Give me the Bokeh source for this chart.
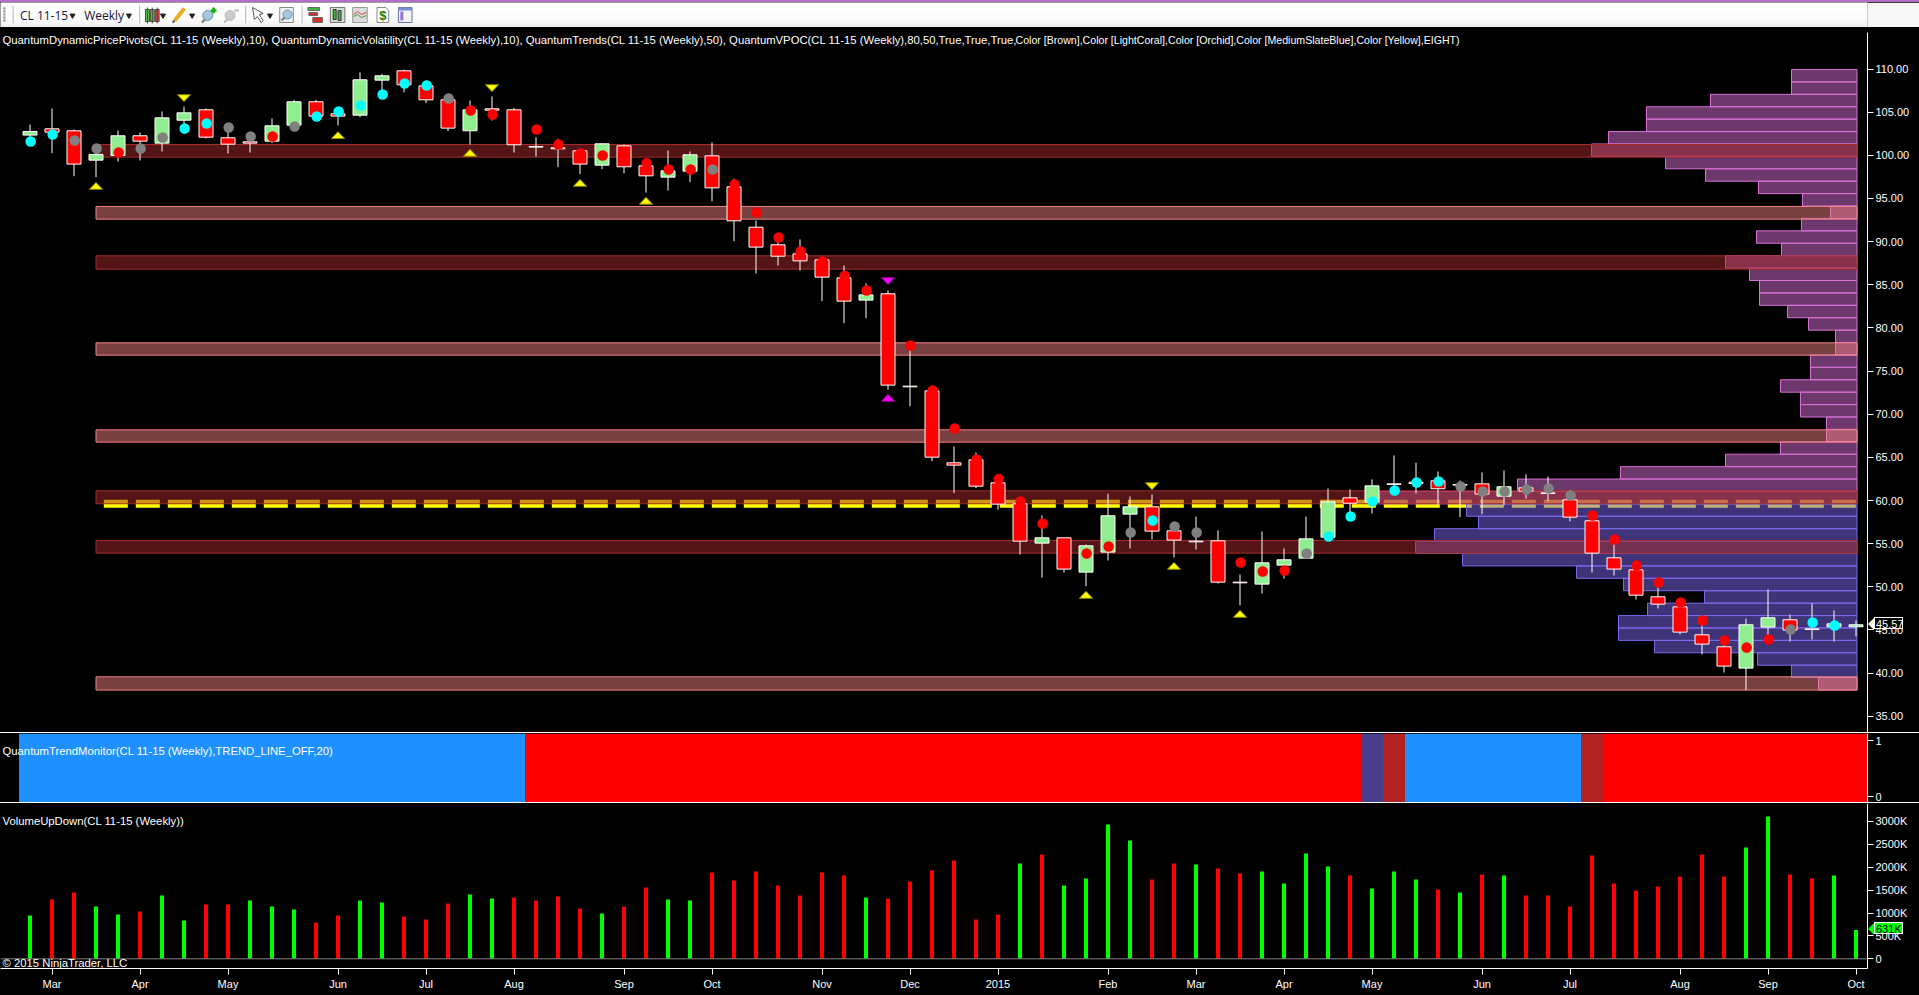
from bokeh.plotting import figure
from bokeh.models import Range1d, FixedTicker, Label, Div, Span
from bokeh.layouts import column
from bokeh.embed import file_html
from bokeh.resources import INLINE
from bokeh.core.properties import value
import numpy as np

FONT = "Liberation Sans"

# ---------- weekly candles ----------
opens = [102.34,103.07,102.84,99.44,99.98,102.26,101.41,104.07,105.27,102.03,101.56,101.64,103.49,106.20,104.81,104.65,108.71,109.79,108.05,106.43,102.84,105.39,105.27,101.02,100.87,100.52,98.86,101.10,98.78,97.47,98.16,99.94,96.35,91.67,89.63,88.58,87.89,85.80,83.22,83.95,73.25,72.71,64.37,64.71,62.05,59.62,55.06,55.68,51.70,54.02,58.42,59.27,56.49,55.29,55.33,50.54,50.31,52.51,53.32,55.75,60.31,59.81,61.93,62.13,62.28,61.86,61.93,60.50,61.47,60.89,60.08,57.65,53.36,51.97,48.84,47.68,44.44,43.05,40.58,45.33,46.18,45.13,45.37,45.37]
closes = [102.76,102.68,98.98,100.10,102.26,101.64,104.34,104.92,102.10,101.29,101.41,103.42,106.20,104.54,104.54,108.75,109.21,108.17,106.43,103.15,105.27,105.23,101.22,100.95,100.75,98.98,101.33,98.67,97.62,98.20,100.06,96.23,92.41,89.36,88.31,87.77,85.88,83.10,83.83,73.37,73.17,65.02,64.10,61.66,59.58,55.29,55.68,52.05,54.75,58.23,59.27,56.45,55.41,55.21,50.54,50.46,52.78,53.13,55.56,59.85,59.69,61.70,61.86,61.97,61.36,61.78,60.74,61.59,61.08,60.81,58.07,53.90,52.05,49.03,47.99,44.75,43.36,40.81,45.60,46.41,44.98,45.05,45.71,45.60]
highs = [103.57,105.43,102.99,101.33,102.88,102.64,105.08,105.66,105.43,103.07,102.68,104.27,106.43,106.43,105.58,109.60,109.44,109.91,108.67,107.13,106.35,106.82,105.50,102.10,101.91,100.75,101.41,101.25,99.63,100.56,100.44,101.49,97.28,92.45,90.13,90.25,88.20,87.23,85.15,84.34,77.77,73.14,66.26,65.56,62.32,60.00,58.26,55.68,54.90,60.78,60.47,60.70,57.30,58.15,56.53,51.43,56.41,54.44,58.15,61.39,61.28,62.44,65.22,64.37,63.36,62.32,63.25,63.48,63.02,62.78,61.16,57.88,54.98,52.28,49.96,48.03,45.52,43.39,46.33,49.69,46.79,48.07,47.26,46.10]
lows = [101.52,100.25,97.58,97.47,99.28,99.40,100.44,102.49,101.95,100.21,100.33,101.41,103.26,104.23,103.46,104.42,107.51,107.28,106.04,102.80,101.25,104.03,100.33,99.86,98.63,97.82,98.40,97.93,95.69,95.92,96.89,94.65,90.05,86.31,87.23,86.65,83.10,80.55,81.13,72.86,70.93,64.56,60.85,61.43,58.96,53.75,51.08,51.66,50.08,53.05,54.44,55.48,53.40,54.32,50.38,47.84,49.23,50.96,53.24,55.75,58.65,58.50,60.78,60.81,59.50,58.07,58.42,59.46,60.23,59.93,57.57,51.66,51.31,48.53,47.49,44.48,42.16,40.07,38.03,43.90,43.66,43.90,43.66,44.24]

# ---------- pivot dots per week ----------
dot_prices = [101.60,102.41,101.72,100.79,100.33,100.79,102.07,103.11,103.69,103.22,102.18,102.18,103.34,104.50,105.08,105.77,107.05,108.32,108.09,106.58,105.19,104.73,None,102.99,101.25,100.21,99.98,None,99.09,98.36,98.36,98.36,96.62,93.37,90.48,88.85,87.70,86.04,84.34,None,77.96,72.75,68.35,64.75,62.48,59.89,57.34,None,53.86,54.67,56.30,57.69,56.99,56.30,None,52.82,51.77,51.89,53.86,55.83,58.15,59.89,61.16,62.09,62.20,61.63,61.05,61.05,61.28,61.39,60.58,58.26,55.48,52.47,50.50,48.18,46.10,43.78,42.97,43.90,45.05,45.87,45.52,None]
dot_kinds = list("ccggrggcc" "ggrg" "ccccc" "c" "grr-" "rrrr-" "rrrgr" "rrrrrr-" "rrrrrrr-" "rrgcgg-" "rrrgcccccc" "gggggg" "rrrrrrrrrgccc-")

# ---------- trend monitor ----------
trend_states = ["up"]*23 + ["down"]*38 + ["mixed"] + ["weak"] + ["up"]*8 + ["weak"] + ["down"]*12

# ---------- volume (thousands of contracts) ----------
volumes = [947,1296,1449,1143,969,1034,1384,838,1187,1187,1275,1143,1078,794,947,1275,1231,925,859,1209,1406,1318,1340,1275,1362,1100,990,1143,
           1559,1296,1275,1886,1712,1908,1602,1384,1886,1821,1340,1318,1690,1930,2148,859,969,2083,2280,1602,1755,2935,2586,1733,2083,2061,1974,1865,1908,
           1646,2301,2017,1821,1537,1908,1733,1515,1449,1843,1821,1384,1384,1143,2258,1646,1493,1580,1799,2280,1799,2432,3110,1843,1755,1821,631]
volume_sides = list("grrggrggrrgggrrggrrrggrrrrgr" "rggrrrrrrrgrrrrrrgrggggrrgrrg" "gggrgggrgrgrrrrrrrrrrggrrgg")

# ---------- swing triangles ----------
up_tri_weeks = [3,14,20,25,28,48,52,55]
up_tri_prices = [96.46,102.34,100.29,96.81,94.73,49.07,52.43,46.87]
down_tri_weeks = [7,21,51]
down_tri_prices = [106.62,107.78,61.66]
mag_weeks = [39,39]
mag_prices = [85.42,71.90]
mag_dirs = [-1,1]

# ---------- volume profile ----------
profile_top = 109.94
profile_step = 1.438
profile_volumes = [65.5,65.5,146.5,210.5,210.5,248.5,265.5,191.5,151.5,98.5,54.5,26.5,55.5,100.5,75.5,131.5,107.5,97.5,97.5,69.5,48.5,21.5,21.5,46.5,46.5,76.5,56.5,56.5,30.5,30.5,76.5,131.5,236.5,339.5,477.5,390.5,378.5,422.5,441.5,394.5,280.5,233.5,152.5,209.5,238.5,238.5,202.5,99.5,65.5,38.5]
profile_kinds = ["out"]*35 + ["value"]*14 + ["out"]

# ---------- volatility zones ----------
zone_tops = [101.25,94.07,88.35,78.27,68.19,61.12,55.37,39.57]
zone_bottoms = [99.79,92.60,86.81,76.84,66.76,59.62,53.90,38.03]
zone_kinds = ["dark","light","dark","light","light","dark","dark","light"]
vpoc_price = 59.62

# ---------- axis labels ----------
month_ticks = [1,5,9,14,18,22,27,31,36,40,44,49,53,57,61,66,70,75,79,83]
month_labels = ["Mar","Apr","May","Jun","Jul","Aug","Sep","Oct","Nov","Dec","2015","Feb","Mar","Apr","May","Jun","Jul","Aug","Sep","Oct"]
price_ticks = [35,40,45,50,55,60,65,70,75,80,85,90,95,100,105,110]
volume_ticks = [0,500,1000,1500,2000,2500,3000]
last_price = 45.57
last_volume = 631

header_a = ("QuantumDynamicPricePivots(CL 11-15 (Weekly),10), QuantumDynamicVolatility(CL 11-15 (Weekly),10), "
            "QuantumTrends(CL 11-15 (Weekly),50), QuantumVPOC(CL 11-15 (Weekly),80,50,True,True,True,")
header_b = "Color [Brown],Color [LightCoral],Color [Orchid],Color [MediumSlateBlue],Color [Yellow],EIGHT)"

# ---------- geometry ----------
W = 1919
RIGHT = 52
FRAME_W = W - RIGHT
def x_range():
    return Range1d(-29.5/22, (FRAME_W-29.5)/22)

def panel(h, yr, bottom=0, **kw):
    p = figure(width=W, height=h, x_range=x_range(), y_range=yr, output_backend="svg", toolbar_location=None,
               background_fill_color="black", border_fill_color="black", outline_line_color=None,
               min_border_left=0, min_border_top=0, min_border_bottom=bottom, min_border_right=RIGHT,
               y_axis_location="right", x_axis_location=("below" if bottom else None), **kw)
    p.grid.visible = False
    ax = p.yaxis[0]
    ax.axis_line_color = "white"
    ax.major_tick_line_color = "white"
    ax.major_tick_in = 0
    ax.major_tick_out = 6
    ax.minor_tick_line_color = None
    ax.major_label_text_color = "white"
    ax.major_label_text_font = FONT
    ax.major_label_text_font_size = "11px"
    ax.major_label_standoff = 2
    return p

def caption(p, text, x, y, size="11.3px"):
    p.add_layout(Label(x=x, y=y, x_units="screen", y_units="screen", text=text, text_color="white",
                       text_font=FONT, text_font_size=size, text_baseline="middle"))

def tag(text, left, top, fg, bg, edge, arrow):
    """A last-value flag that sits over the axis, outside any plot frame."""
    html = (f'<div style="position:relative;width:37px;height:15px;font:11px \'{FONT}\';color:{fg};">'
            f'<div style="position:absolute;left:0;top:1px;width:0;height:0;border-top:6px solid transparent;'
            f'border-bottom:6px solid transparent;border-right:6px solid {arrow};"></div>'
            f'<div style="position:absolute;left:6px;top:0;width:29px;height:12px;line-height:12px;padding:0 0 0 1px;'
            f'border:1px solid {edge};background:{bg};white-space:nowrap;">{text}</div></div>')
    return Div(text=html, width=37, height=15, margin=0,
               styles={"position": "fixed", "left": f"{left}px", "top": f"{top}px", "z-index": "5"})

# ---------- toolbar ----------
backstop = Div(text="", width=W, height=995, margin=0,
               styles={"position": "fixed", "left": "0", "top": "0", "z-index": "-1", "background-color": "black"})
purple = Div(text="", width=W, height=2, margin=0, styles={"background-color": "#b06fc8"})
tb = figure(width=W, height=25, x_range=Range1d(0, W), y_range=Range1d(27, 2), output_backend="svg", toolbar_location=None,
            background_fill_color="#f8f8f8", border_fill_color="#f8f8f8", outline_line_color=None,
            min_border=0, x_axis_location=None, y_axis_location=None)
tb.grid.visible = False
tb.quad(left=0, right=W, top=[2,12,20,24,26.7], bottom=[12,20,24,26.7,27],
        fill_color=["#ffffff","#fcfcfc","#f6f6f6","#efefef","#000000"], line_color=None)
tb.segment(x0=[13,143,252,310], x1=[13,143,252,310], y0=5, y1=23, line_color="#b8b8b8", line_width=1)
tb.scatter(x=[4,4,4,4,4], y=[8,11,14,17,20], size=2, color="#aaaaaa")
tb.text(x=[20,86], y=[15,15], text=["CL 11-15","Weekly"], text_font=value("Open Sans"), text_font_size="12px",
        text_color="#14143c", text_baseline="middle")
tb.scatter(x=[74,132,167,197,277], y=[15,15,15,15,15], marker="inverted_triangle", size=5, color="#222222")
tb.quad(left=[149,154,159], right=[153,158,163], top=[9,9,9], bottom=[21,21,21],
        fill_color=["#5fd04c","#5fd04c","#e8413a"], line_color="#444444")
tb.segment(x0=[151,156,161], x1=[151,156,161], y0=7, y1=23, line_color="#444444")
tb.line(x=[179,189], y=[20,8], line_color="#e8b020", line_width=4)
tb.line(x=[177,179], y=[22,20], line_color="#555555", line_width=2)
tb.line(x=[207,211], y=[22,18], line_color="#777777", line_width=2)
tb.scatter(x=[213], y=[15], size=10, fill_color="#a8c8e0", line_color="#7090a8")
tb.segment(x0=[216,219], x1=[222,219], y0=[10,7], y1=[10,13], line_color="#12b012", line_width=2.5)
tb.line(x=[230,234], y=[22,18], line_color="#bbbbbb", line_width=2)
tb.scatter(x=[236], y=[15], size=10, fill_color="#cccccc", line_color="#bbbbbb")
tb.line(x=[240,245], y=[10,10], line_color="#bbbbbb", line_width=2)
tb.patch(x=[259,270,266,270,268,264,261], y=[7,13,14,20,22,16,19], fill_color="#ffffff", line_color="#555555")
tb.quad(left=287, right=301, top=7, bottom=22, fill_color="#f0f0f0", line_color="#888888")
tb.scatter(x=[295], y=[14], size=9, fill_color="#a8c8e0", line_color="#7090a8")
tb.line(x=[289,292], y=[20,17], line_color="#777777", line_width=2)
tb.quad(left=[316,317,321], right=[328,326,331], top=[7,12,17], bottom=[10,15,22],
        fill_color=["#3cb83c","#d83030","#d83030"], line_color="#666666")
tb.quad(left=339, right=354, top=7, bottom=22, fill_color="#d8d8d8", line_color="#777777")
tb.quad(left=[342,347], right=[345,350], top=[9,10], bottom=[19,20], fill_color=["#3cb83c","#3cb83c"], line_color="#333333")
tb.quad(left=362, right=377, top=7, bottom=22, fill_color="#dcdcdc", line_color="#999999")
tb.line(x=[363,367,371,376], y=[14,11,14,12], line_color="#d04040")
tb.line(x=[363,367,371,376], y=[16,14,17,15], line_color="#40a040")
tb.patch(x=[387,396,399,399,387], y=[7,7,10,22,22], fill_color="#ffffff", line_color="#888888")
tb.text(x=[393], y=[15], text=["$"], text_font=value(FONT), text_font_size="13px", text_font_style="bold",
        text_color="#108010", text_align="center", text_baseline="middle")
tb.quad(left=409, right=423, top=7, bottom=22, fill_color="#f4f4f8", line_color="#6070a8")
tb.quad(left=[409,411], right=[423,414], top=[7,11], bottom=[10,20], fill_color=["#7090d0","#9070d8"], line_color=None)

# ---------- main price panel ----------
p1 = panel(705, Range1d(60-(732-500)/8.63, 60+(500-27)/8.63))
pr = p1.yaxis[0]
pr.ticker = FixedTicker(ticks=price_ticks)
pr.major_label_overrides = {t: f"{t:.2f}" for t in price_ticks}
pr.bounds = (33.12, 114.2)
p1.extra_x_ranges["profile"] = Range1d(1856.5, -10.5)

weeks = np.arange(len(opens))

p1.line(x=[3.355, 83.05], y=[vpoc_price, vpoc_price], line_color="#ffff00", line_width=8, line_dash="24 8")

prof_tops = [profile_top - profile_step*i for i in range(len(profile_volumes))]
prof_bottoms = [t - profile_step for t in prof_tops]
pc = {"out": "#DA70D6", "value": "#7B68EE"}
p1.quad(left=profile_volumes, right=0, top=prof_tops, bottom=prof_bottoms, x_range_name="profile",
        fill_color=[pc[k] for k in profile_kinds], fill_alpha=0.5,
        line_color=[pc[k] for k in profile_kinds], line_width=1)

zc = {"dark": "#A52A2A", "light": "#F08080"}
p1.quad(left=3, right=83.05, top=zone_tops, bottom=zone_bottoms,
        fill_color=[zc[k] for k in zone_kinds], fill_alpha=0.5,
        line_color=[zc[k] for k in zone_kinds], line_width=1)

ups = [c > o for o, c in zip(opens, closes)]
p1.segment(x0=weeks, x1=weeks, y0=lows, y1=highs, line_color="white", line_width=1)
p1.vbar(x=weeks, width=14/22, top=[max(o, c) for o, c in zip(opens, closes)], bottom=[min(o, c) for o, c in zip(opens, closes)],
        fill_color=["#90EE90" if u else "#FF0000" for u in ups], line_color="white", line_width=1)

dk = {"c": "#00FFFF", "g": "#808080", "r": "#FF0000"}
dw = [i + 0.03 for i, v in enumerate(dot_prices) if v is not None]
dv = [v for v in dot_prices if v is not None]
dc = [dk[k] for k, v in zip(dot_kinds, dot_prices) if v is not None]
p1.scatter(x=dw, y=dv, size=10.5, marker="circle", fill_color=dc, line_color=None)

def tris(ws, ps, dirs):
    return ([[w-0.3, w, w+0.3] for w in ws],
            [[v-0.4*d, v+0.4*d, v-0.4*d] for v, d in zip(ps, dirs)])
xs, ys = tris(up_tri_weeks, up_tri_prices, [1]*len(up_tri_weeks))
p1.patches(xs, ys, fill_color="#FFFF00", line_color="#8a8a00", line_width=1)
xs, ys = tris(down_tri_weeks, down_tri_prices, [-1]*len(down_tri_weeks))
p1.patches(xs, ys, fill_color="#FFFF00", line_color="#8a8a00", line_width=1)
xs, ys = tris(mag_weeks, mag_prices, mag_dirs)
p1.patches(xs, ys, fill_color="#FF00FF", line_color="#8a008a", line_width=1)

caption(p1, header_a, 2, 705-12)
caption(p1, header_b, 1015, 705-12, "10.6px")

# ---------- trend monitor ----------
p2 = panel(69, Range1d(-6/56, 1+7/56))
p2.yaxis[0].ticker = FixedTicker(ticks=[0, 1])
tc = {"up": "#1E90FF", "down": "#FF0000", "mixed": "#483D8B", "weak": "#B22222"}
p2.vbar(x=weeks, width=1, top=1+7/56, bottom=-6/56, fill_color=[tc[s] for s in trend_states], line_color=None)
caption(p2, "QuantumTrendMonitor(CL 11-15 (Weekly),TREND_LINE_OFF,20)", 2, 69-17)

# ---------- volume ----------
p3 = panel(192, Range1d(-(968-958.3)/45.77*1000, (958.3-803)/45.77*1000), bottom=27)
vax = p3.yaxis[0]
vax.ticker = FixedTicker(ticks=volume_ticks)
vax.major_label_overrides = {t: (f"{t}K" if t else "0") for t in volume_ticks}
xax = p3.xaxis[0]
xax.ticker = FixedTicker(ticks=month_ticks)
xax.major_label_overrides = dict(zip(month_ticks, month_labels))
xax.axis_line_color = "white"
xax.major_tick_line_color = "white"
xax.major_tick_in = 0
xax.major_tick_out = 6
xax.minor_tick_line_color = None
xax.major_label_text_color = "white"
xax.major_label_text_font = FONT
xax.major_label_text_font_size = "11px"
xax.major_label_standoff = 3
p3.add_layout(Span(location=0, dimension="width", line_color="#808080", line_width=1))
p3.vbar(x=weeks, width=4/22, top=volumes, bottom=0,
        fill_color=["#00FF00" if s == "g" else "#FF0000" for s in volume_sides], line_color=None)
caption(p3, "VolumeUpDown(CL 11-15 (Weekly))", 2, 165-17)
caption(p3, "© 2015 NinjaTrader, LLC", 2, 165-159)

def rule():
    return Div(text="", width=W, height=1, margin=0, styles={"background-color": "white"})

price_tag = tag(f"{last_price:.2f}", 1868, 617, "white", "black", "white", "white")
volume_tag = tag(f"{last_volume}K", 1868, 922, "black", "#00FF00", "white", "#00FF00")
page = column(backstop, purple, tb, p1, rule(), p2, rule(), p3, price_tag, volume_tag, spacing=0,
              styles={"position": "fixed", "left": "0", "top": "0"})
open("out.html", "w").write(file_html(page, INLINE))
